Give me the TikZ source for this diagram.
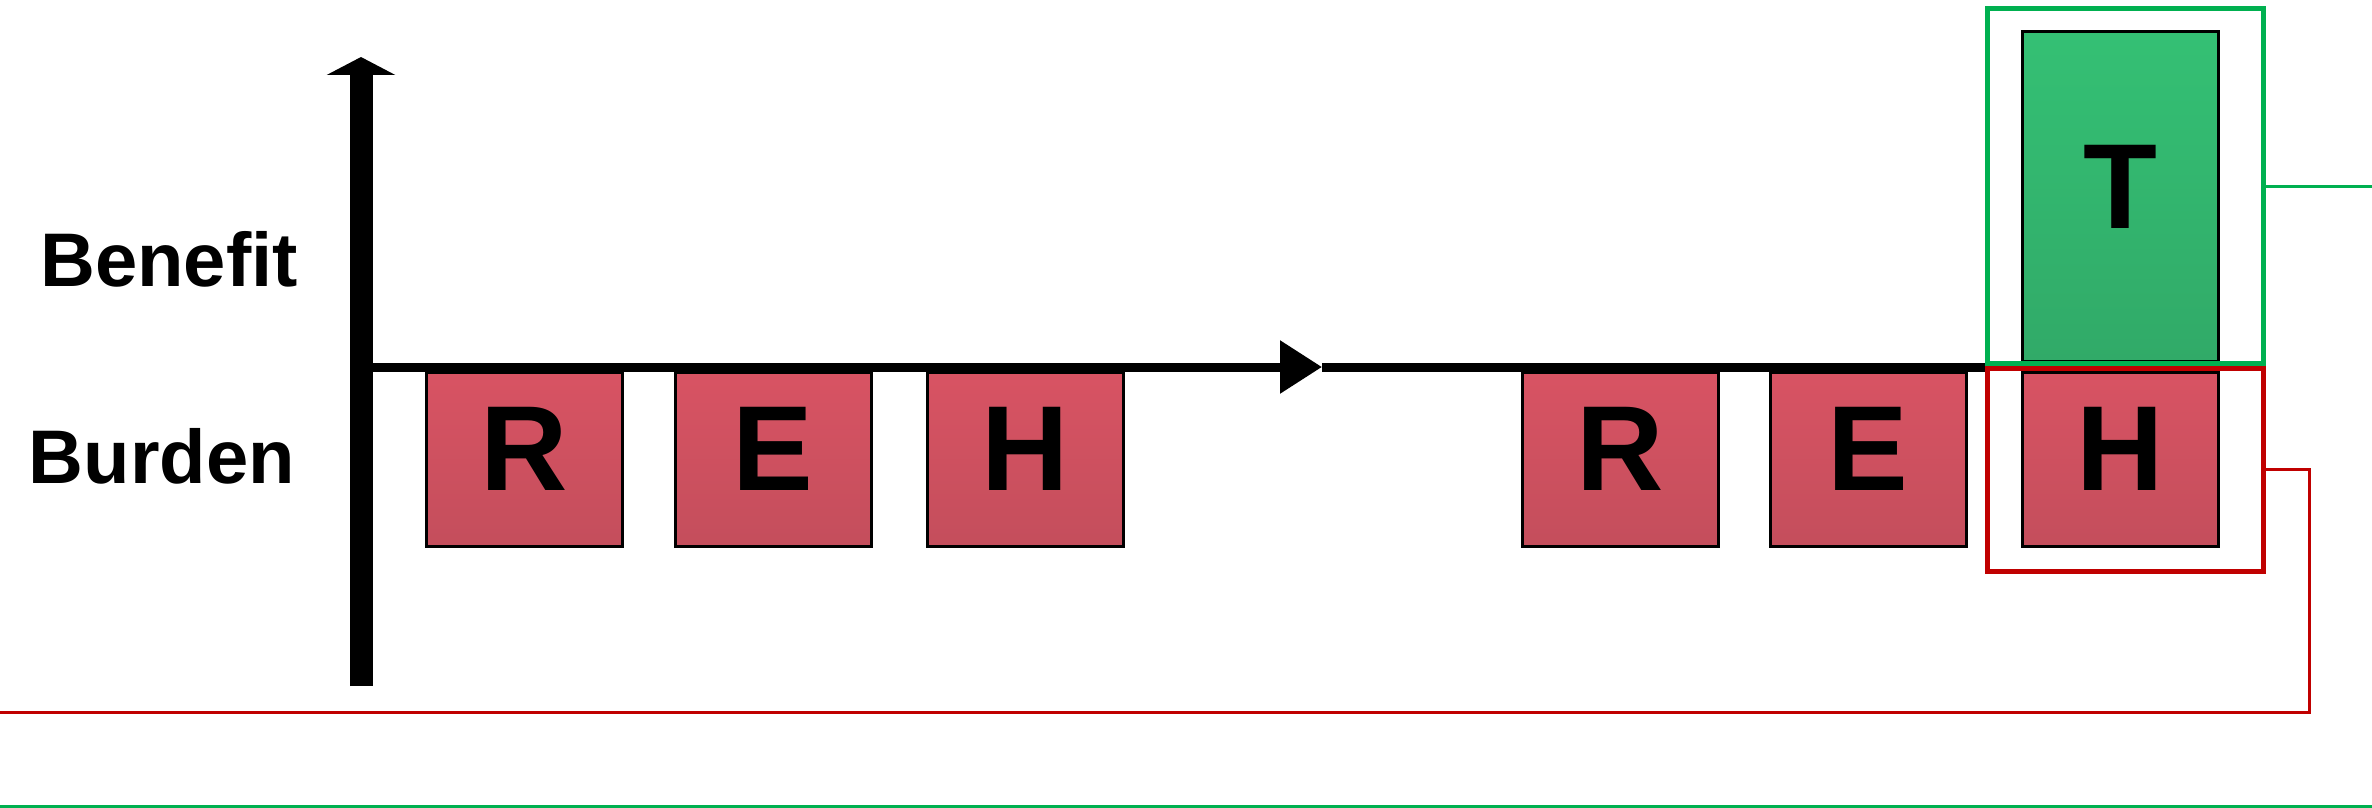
\documentclass[tikz,border=0pt]{standalone}
\usepackage{fontspec}
\setmainfont{Liberation Sans}
\usetikzlibrary{arrows.meta,shadings}
\definecolor{redTop}{RGB}{216,83,99}
\definecolor{redBot}{RGB}{196,78,92}
\definecolor{grnTop}{RGB}{52,192,116}
\definecolor{grnBot}{RGB}{49,170,104}
\definecolor{grnLine}{RGB}{0,176,80}
\definecolor{redLine}{RGB}{192,0,0}
\tikzset{
  letterbox/.style={draw=black, line width=3pt, top color=redTop, bottom color=redBot,
    minimum width=196pt, minimum height=174pt, inner sep=0pt, text depth=20pt,
    font=\bfseries\fontsize{121}{121}\selectfont},
  tbox/.style={letterbox, top color=grnTop, bottom color=grnBot, minimum height=329pt},
  axislabel/.style={font=\bfseries\fontsize{76}{76}\selectfont, anchor=base east, inner sep=0pt},
  frame/.style={draw, line width=5pt, minimum width=276pt, inner sep=0pt},
  link/.style={line width=3pt}
}
\begin{document}
\begin{tikzpicture}[x=1pt,y=-1pt]
\useasboundingbox (0,0) rectangle (2372,808);
% axes
\coordinate (yb) at (361,686);
\coordinate (yt) at (361,57);
\draw[line width=23pt, -{Triangle[width=68pt,length=18pt]}] (yb) -- (yt);
\coordinate (h0) at (361,367);
\coordinate (hm) at (1322,367);
\coordinate (h1) at (1989,367);
\draw[line width=9pt, -{Triangle[width=51pt,length=42pt]}] (h0) -- (hm);
\draw[line width=9pt] (hm) -- (h1);
% labels
\node[axislabel] (benefit) at (298,286) {Benefit};
\node[axislabel] (burden) at (295,483) {Burden};
% boxes
\node[letterbox] (r1) at (524,459) {R};
\node[letterbox] (e1) at (773,459) {E};
\node[letterbox] (hh1) at (1025,459) {H};
\node[letterbox] (r2) at (1620,459) {R};
\node[letterbox] (e2) at (1868,459) {E};
\node[letterbox] (hh2) at (2120,459) {H};
\node[tbox] (t) at (2120,196.5) {T};
% frames
\node[frame, draw=grnLine, minimum height=354pt] (gf) at (2125,186) {};
\node[frame, draw=redLine, minimum height=203pt] (rf) at (2125,469.5) {};
% connectors
\coordinate (gend) at (2372,186);
\draw[link, grnLine] (gf.east) -- (gend);
\coordinate (gl0) at (0,806);
\coordinate (gl1) at (2372,806);
\draw[link, grnLine] (gl0) -- (gl1);
\coordinate (rc1) at (2309,469.5);
\coordinate (rc2) at (2309,712);
\coordinate (rc3) at (0,712);
\draw[link, redLine] (rf.east) -- (rc1) -- (rc2) -- (rc3);
\end{tikzpicture}
\end{document}
